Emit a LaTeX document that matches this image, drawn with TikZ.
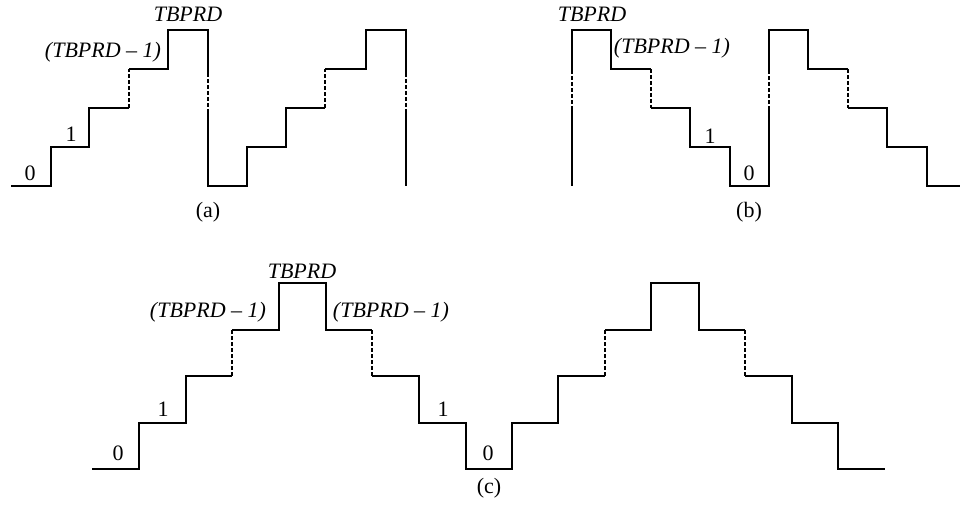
\documentclass[tikz,border=0pt]{standalone}
\usepackage{fontspec}
\setmainfont{Liberation Serif}
\begin{document}
\begin{tikzpicture}[x=1pt,y=-1pt,
  wave/.style={line width=1.8pt, line join=miter},
  dsh/.style={line width=1.8pt, dash pattern=on 4pt off 2pt},
  lbl/.style={inner sep=0pt, font=\fontsize{22}{26}\selectfont},
  ilbl/.style={lbl, font=\fontsize{22}{26}\selectfont\itshape}]
\useasboundingbox (0,0) rectangle (960,510);
% (a)
\draw[wave] (11,186)--(51,186)--(51,147)--(89,147)--(89,108)--(129,108);
\draw[dsh] (129,108)--(129,69);
\draw[wave] (129,69)--(168,69)--(168,30)--(208,30)--(208,73);
\draw[dsh] (208,73)--(208,110);
\draw[wave] (208,110)--(208,186)--(247,186)--(247,147)--(286,147)--(286,108)--(325,108);
\draw[dsh] (325,108)--(325,69);
\draw[wave] (325,69)--(366,69)--(366,30)--(406,30)--(406,73);
\draw[dsh] (406,73)--(406,110);
\draw[wave] (406,110)--(406,186);
\node[lbl] (a0) at (30,173) {0};
\node[lbl] (a1) at (71,134) {1};
\node[ilbl] (am) at (103,52) {(TBPRD – 1)};
\node[ilbl] (at) at (188,14) {TBPRD};
\node[lbl] (acap) at (208,212) {(a)};
% (b)
\draw[wave] (572,186)--(572,110);
\draw[dsh] (572,110)--(572,73);
\draw[wave] (572,73)--(572,30)--(611,30)--(611,69)--(651,69);
\draw[dsh] (651,69)--(651,108);
\draw[wave] (651,108)--(690,108)--(690,147)--(730,147)--(730,186)--(769,186)--(769,110);
\draw[dsh] (769,110)--(769,73);
\draw[wave] (769,73)--(769,30)--(808,30)--(808,69)--(848,69);
\draw[dsh] (848,69)--(848,108);
\draw[wave] (848,108)--(887,108)--(887,147)--(927,147)--(927,186)--(960,186);
\node[ilbl] (bt) at (592,14) {TBPRD};
\node[ilbl] (bm) at (672,48) {(TBPRD – 1)};
\node[lbl] (b1) at (710,136) {1};
\node[lbl] (b0) at (749,173) {0};
\node[lbl] (bcap) at (749,212) {(b)};
% (c)
\draw[wave] (92,469)--(139,469)--(139,423)--(186,423)--(186,376)--(232,376);
\draw[dsh] (232,376)--(232,330);
\draw[wave] (232,330)--(279,330)--(279,283)--(326,283)--(326,330)--(372,330);
\draw[dsh] (372,330)--(372,376);
\draw[wave] (372,376)--(419,376)--(419,423)--(466,423)--(466,469)--(512,469)--(512,423)--(558,423)--(558,376)--(605,376);
\draw[dsh] (605,376)--(605,330);
\draw[wave] (605,330)--(651,330)--(651,283)--(699,283)--(699,330)--(745,330);
\draw[dsh] (745,330)--(745,376);
\draw[wave] (745,376)--(792,376)--(792,423)--(838,423)--(838,469)--(885,469);
\node[ilbl] (ct) at (302,271) {TBPRD};
\node[ilbl] (cml) at (208,312) {(TBPRD – 1)};
\node[ilbl] (cmr) at (391,312) {(TBPRD – 1)};
\node[lbl] (c1l) at (163,409) {1};
\node[lbl] (c1r) at (443,409) {1};
\node[lbl] (c0l) at (118,453) {0};
\node[lbl] (c0r) at (488,453) {0};
\node[lbl] (ccap) at (489,488) {(c)};
\end{tikzpicture}
\end{document}
